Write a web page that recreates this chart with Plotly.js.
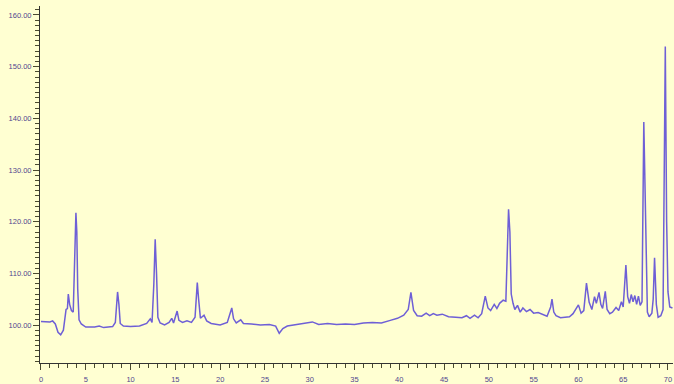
<!DOCTYPE html>
<html>
<head>
<meta charset="utf-8">
<script src="https://cdn.plot.ly/plotly-3.0.1.min.js"></script>
<style>html,body{margin:0;padding:0;background:#FFFFD2;}</style>
</head>
<body>
<div id="chart" style="width:674px;height:384px;"></div>
<script>
// Retention time (minutes)
const retentionTime = [
  0.0,0.5,1.0,1.3,1.6,1.9,2.2,2.5,2.7,2.8,2.95,3.05,3.2,3.4,3.6,3.75,3.9,4.0,4.1,4.25,4.5,
  5.0,6.0,6.5,7.0,7.5,8.0,8.3,8.55,8.7,8.85,9.2,10,11,11.8,12.2,12.4,12.6,12.75,12.9,13.05,
  13.3,13.8,14.3,14.6,14.8,15.2,15.4,15.8,16.3,16.8,17.2,17.45,17.6,17.8,18.2,18.5,19,20,
  20.8,21.1,21.3,21.5,21.8,22.3,22.6,23.5,24.5,25.5,26.2,26.6,27.0,27.5,28.5,29.5,30.3,31,
  32,33,34,35,36,37,38,39,39.8,40.5,41.0,41.3,41.6,42.0,42.5,43.0,43.4,43.8,44.2,44.8,45.5,
  46.3,47.0,47.5,47.9,48.4,48.8,49.2,49.6,49.9,50.2,50.6,50.9,51.2,51.6,51.9,52.05,52.2,
  52.35,52.5,52.7,52.9,53.2,53.5,53.8,54.2,54.6,55.0,55.5,56.0,56.5,56.9,57.05,57.25,57.5,
  58,58.5,59,59.4,59.7,60.0,60.3,60.6,60.9,61.2,61.5,61.8,62.0,62.3,62.5,62.7,63.0,63.2,
  63.5,63.8,64.2,64.5,64.8,65.0,65.3,65.5,65.7,65.9,66.1,66.3,66.5,66.7,66.9,67.1,67.3,
  67.5,67.7,67.9,68.2,68.35,68.5,68.7,68.9,69.2,69.45,69.7,69.85,70.0,70.2,70.5
];
// Detector signal
const signal = [
  100.7,100.7,100.6,100.8,100.2,98.6,98.1,99.0,101.5,103.0,103.2,106.0,104.0,102.8,102.5,110,121.7,118,107,101,100.2,
  99.6,99.6,99.8,99.5,99.6,99.7,100.5,106.4,104,100.3,99.8,99.7,99.8,100.3,101.2,100.5,108,116.6,110,101.5,
  100.4,100.0,100.5,101.3,100.4,102.7,100.9,100.5,100.8,100.5,101.5,108.2,105,101.3,101.9,100.8,100.3,100.0,
  100.5,102,103.3,101.2,100.4,101.0,100.3,100.2,100.0,100.1,99.8,98.4,99.3,99.8,100.1,100.3,100.6,100.1,
  100.3,100.1,100.2,100.1,100.4,100.5,100.4,100.9,101.3,101.9,103,106.3,102.8,101.8,101.7,102.3,101.8,102.2,101.9,102.1,101.6,
  101.5,101.4,101.8,101.3,101.9,101.4,102.2,105.6,103.3,102.8,104.0,103.2,104.2,104.8,104.6,112,122.4,
  118,106,104.2,103.0,103.8,102.5,103.3,102.6,103.0,102.3,102.4,102.0,101.7,103.5,105.0,102.5,101.8,
  101.4,101.5,101.6,102.2,103.2,103.9,102.3,102.8,108.1,104.4,103.0,105.5,104.2,106.3,104.0,103.2,106.5,103.0,
  102.2,102.5,103.4,102.8,104.5,103.5,111.6,105.5,104.2,105.9,104.5,105.7,104.0,105.6,103.8,104.5,139.3,
  118,102.5,101.6,102.3,105,113.0,104,101.5,101.8,103,153.9,120,106.4,103.5,103.3
];

const bg = '#FFFFD2';
const tickFont = {family: 'Liberation Sans, Arial, sans-serif', size: 7.5, color: '#52468f'};

Plotly.newPlot('chart', [{
  x: retentionTime,
  y: signal,
  type: 'scatter',
  mode: 'lines',
  line: {color: '#6e5fd6', width: 1.5},
  hoverinfo: 'skip'
}], {
  width: 674,
  height: 384,
  margin: {l: 40, r: 1, t: 6, b: 21},
  paper_bgcolor: bg,
  plot_bgcolor: bg,
  showlegend: false,
  xaxis: {
    range: [-0.11, 70.56],
    tick0: 0, dtick: 5,
    ticks: 'outside', ticklen: 6, tickwidth: 1, tickcolor: '#4a4a30',
    minor: {dtick: 1, ticks: 'outside', ticklen: 4, tickcolor: '#4a4a30', showgrid: false},
    showline: true, linecolor: '#333333', linewidth: 1,
    showgrid: false, zeroline: false,
    ticklabelstandoff: 3,
    tickfont: tickFont
  },
  yaxis: {
    range: [92.65, 161.74],
    tick0: 100, dtick: 10,
    tickformat: '.2f',
    ticks: 'outside', ticklen: 6, tickwidth: 1, tickcolor: '#4a4a30',
    minor: {dtick: 1, ticks: 'outside', ticklen: 4, tickcolor: '#4a4a30', showgrid: false},
    showline: true, linecolor: '#333333', linewidth: 1,
    showgrid: false, zeroline: false,
    tickfont: tickFont
  }
}, {displayModeBar: false, staticPlot: true});
</script>
</body>
</html>
